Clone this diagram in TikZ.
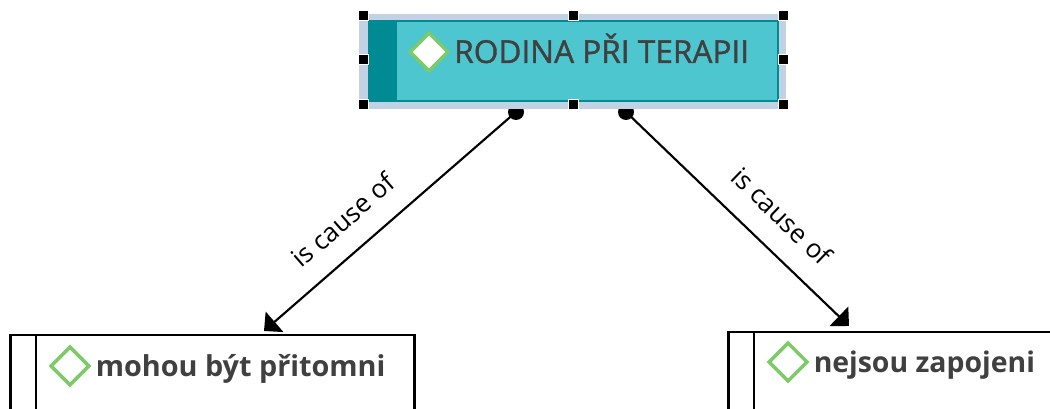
\documentclass[tikz,border=0pt]{standalone}
\usepackage{fontspec}
\setmainfont{Open Sans}
\newfontfamily\midfont[FakeBold=1.2]{Open Sans}
\usetikzlibrary{arrows.meta, shapes.geometric}
\definecolor{tealfill}{HTML}{4EC6D0}
\definecolor{tealdark}{HTML}{008B94}
\definecolor{bandblue}{HTML}{C3D1E5}
\definecolor{inkgray}{HTML}{404040}
\definecolor{leafgreen}{HTML}{7CCB68}
\tikzset{
	handle/.style={draw=white, line width=0.75pt, fill=black, minimum width=7.5pt, minimum height=7.5pt, inner sep=0pt},
	gem/.style={diamond, draw=leafgreen, line width=2.6pt, fill=white, aspect=1, minimum width=29.5pt, minimum height=29.5pt, inner sep=0pt},
	plainbox/.style={draw=black, line width=2pt, fill=white, minimum width=303pt, minimum height=120pt, inner sep=0pt, outer sep=0pt},
	rolelabel/.style={font=\fontsize{19.5pt}{22pt}\selectfont, text=black, inner sep=0pt},
	causearrow/.style={-{Triangle[length=10.5pt, width=20pt]}, line width=1.6pt, black},
	tail/.style={circle, fill=black, minimum size=12pt, inner sep=0pt}
}
\begin{document}
\begin{tikzpicture}[x=0.75pt, y=-0.75pt]
	\useasboundingbox (0,0) rectangle (1050,409);
	\clip (0,0) rectangle (1050,409);

	% Dots under the selected box
	\node[tail] (dotleft) at (516,112) {};
	\node[tail] (dotright) at (626,112) {};
	% Targets
	\coordinate (endleft) at (264,331);
	\coordinate (endright) at (849,326);

	% Selected box
	\node[fill=bandblue, minimum width=320.25pt, minimum height=71.25pt, inner sep=0pt] (band) at (572.5,61.5) {};
	\node[draw=tealdark, line width=1.5pt, fill=tealfill, minimum width=307pt, minimum height=60pt, inner sep=0pt] (root) at (573.5,61.5) {};
	\node[fill=tealdark, minimum width=22pt, minimum height=60pt, inner sep=0pt] (rootstrip) at (382.5,61.5) {};
	\node[gem] (rootgem) at (429,52) {};
	\node[text=inkgray, font=\fontsize{23.7pt}{28pt}\midfont, anchor=base west, inner sep=0pt] (roottext) at (454,63) {RODINA PŘI TERAPII};
	% Handles
	\node[handle] (h1) at (363,16) {};
	\node[handle] (h2) at (573.5,16) {};
	\node[handle] (h3) at (783,16) {};
	\node[handle] (h4) at (363,60) {};
	\node[handle] (h5) at (783,60) {};
	\node[handle] (h6) at (363,104.5) {};
	\node[handle] (h7) at (573.5,104.5) {};
	\node[handle] (h8) at (783,104.5) {};

	% Left box
	\node[plainbox, anchor=north west] (boxleft) at (10.5,335) {};
	\draw[line width=2pt] (boxleft.north west -| 36,0) -- (boxleft.south west -| 36,0);
	\node[gem] (gemleft) at (70,366) {};
	\node[text=inkgray, font=\fontsize{21.6pt}{26pt}\selectfont\bfseries, anchor=base west, inner sep=0pt] (textleft) at (95.5,377) {mohou být přitomni};
	% Right box
	\node[plainbox, anchor=north west] (boxright) at (728.5,332) {};
	\draw[line width=2pt] (boxright.north west -| 754,0) -- (boxright.south west -| 754,0);
	\node[gem] (gemright) at (788,362) {};
	\node[text=inkgray, font=\fontsize{21.3pt}{26pt}\selectfont\bfseries, anchor=base west, inner sep=0pt] (textright) at (813.5,373) {nejsou zapojeni};

	% Arrows
	\draw[causearrow] (dotleft.center) -- (endleft);
	\draw[causearrow] (dotright.center) -- (endright);
	% Labels
	\node[rolelabel, rotate=41] (labelleft) at (343,220) {is cause of};
	\node[rolelabel, rotate=-44] (labelright) at (782,216) {is cause of};
\end{tikzpicture}
\end{document}
